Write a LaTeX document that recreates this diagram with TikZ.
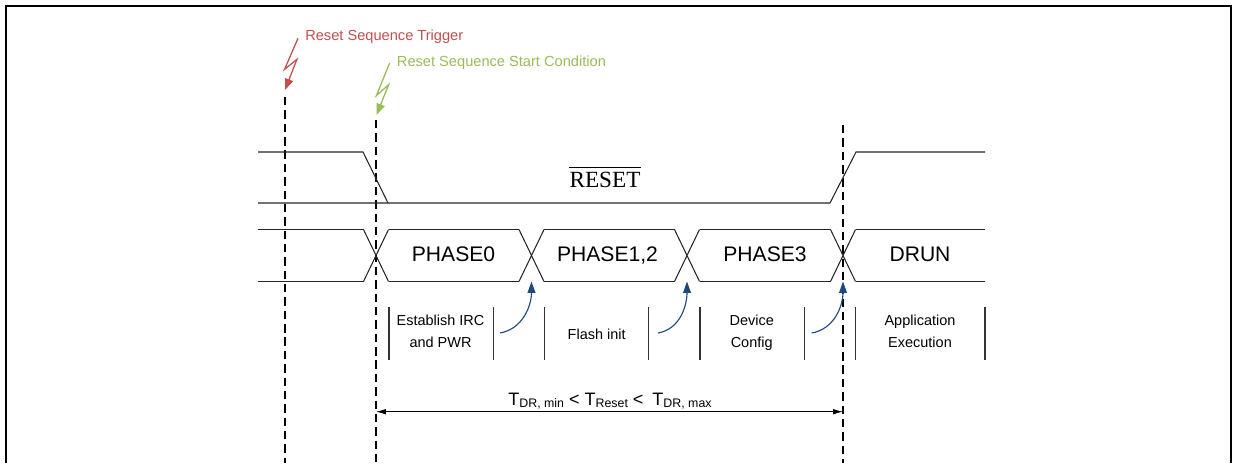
\documentclass[tikz,border=0pt]{standalone}
\usepackage{fontspec}
\setmainfont{Liberation Sans}
\newfontfamily\resetfont{Liberation Serif}
\usetikzlibrary{arrows.meta,positioning}
\definecolor{trigred}{RGB}{192,80,77}
\definecolor{startgreen}{RGB}{155,187,89}
\definecolor{hopblue}{RGB}{31,73,125}
\newcommand{\tsub}[1]{\raisebox{-1.5pt}{\fontsize{8.8}{10}\selectfont #1}}

\begin{document}
\begin{tikzpicture}
	% Styles
	[
	x=0.025cm, y=-0.025cm,
	sigline/.style={line width=0.75pt, black!85},
	marker/.style={line width=1.7pt, dash pattern=on 6pt off 3.5pt},
	bolt/.style={line width=0.9pt, -{Triangle[length=8pt,width=6pt]}},
	cue/.style={anchor=base west, inner sep=0pt, font=\fontsize{10.4}{12}\selectfont},
	phasetxt/.style={anchor=base, inner sep=0pt, font=\fontsize{15}{17}\selectfont},
	steptxt/.style={align=center, font=\fontsize{10.3}{15.6}\selectfont},
	bracket/.style={line width=0.8pt, black!80},
	hop/.style={line width=0.8pt, hopblue, -{Triangle[length=8pt,width=5.5pt]}},
	span/.style={line width=0.7pt, {Latex[length=7pt,width=4pt]}-{Latex[length=7pt,width=4pt]}}
	]

	\useasboundingbox (0,0) rectangle (1233,463);
	\draw[line width=1.3pt] (6,463) -- (6,6) -- (1231,6) -- (1231,463);

	% Nodes
	\node at (305,40)	(trig)	[cue, text=trigred] {Reset Sequence Trigger};
	\node at (396.7,66.7)	(start)	[cue, text=startgreen] {Reset Sequence Start Condition};
	\node at (605,187.7)	(reset)	[anchor=base, inner sep=0pt, font=\resetfont\fontsize{16.5}{18}\selectfont] {RESET};
	\node at (453.5,261.7)	(phase0)	[phasetxt] {PHASE0};
	\node at (607.5,261.7)	(phase12)	[phasetxt] {PHASE1,2};
	\node at (765,261.7)	(phase3)	[phasetxt] {PHASE3};
	\node at (920,261.7)	(drun)	[phasetxt] {DRUN};
	\node at (440.5,331.5)	(irc)	[steptxt] {Establish IRC\\and PWR};
	\node at (596.7,334.5)	(flash)	[steptxt] {Flash init};
	\node at (751.7,332.5)	(config)	[steptxt] {Device\\Config};
	\node at (920,331.5)	(app)	[steptxt] {Application\\Execution};
	\node at (610,405)	(treset)	[anchor=base, inner sep=0pt, font=\fontsize{12.8}{14}\selectfont] {T\tsub{DR, min} < T\tsub{Reset} <\hspace{0.5em}T\tsub{DR, max}};

	% Coordinates
	\coordinate (trig top)	at (285,97);
	\coordinate (trig end)	at (285,463);
	\coordinate (trig tip)	at (285,90);
	\coordinate (start top)	at (376,120);
	\coordinate (start end)	at (376,463);
	\coordinate (start tip)	at (376.5,115);
	\coordinate (done top)	at (843,125);
	\coordinate (done end)	at (843,463);
	\coordinate (hop1)	at (500,333);
	\coordinate (hop2)	at (658,333);
	\coordinate (hop3)	at (811.7,333);
	\coordinate (span left)	at (376,411.7);
	\coordinate (span right)	at (843,411.7);

	% Markers
	\draw[marker] (trig top) -- (trig end);
	\draw[marker] (start top) -- (start end);
	\draw[marker] (done top) -- (done end);
	\draw[bolt, trigred] ([xshift=-5pt,yshift=-1.5pt]trig.west) -- ++(-13.4,31) -- ++(12.4,-10) -- (trig tip);
	\draw[bolt, startgreen] ([xshift=-5pt]start.west) -- ++(-13.3,32.7) -- ++(12.3,-11) -- (start tip);

	% RESET waveform
	\draw[sigline] (258,152) -- (363,152) -- (388,203);
	\draw[sigline] (258,203) -- (830,203) -- (856,152) -- (985,152);
	\draw[line width=0.9pt] ([yshift=3.5pt]reset.north west) -- ([yshift=3.5pt]reset.north east);

	% Phase bus
	\foreach \a/\b in {258/363.5, 388.5/519, 544/674.5, 699.5/830.5, 855.5/985}
		\draw[sigline] (\a,229.5) -- (\b,229.5) (\a,281.5) -- (\b,281.5);
	\foreach \c [count=\i] in {376,531.5,687,843} {
		\draw[sigline] (\c-12.5,229.5) -- (\c+12.5,281.5) (\c-12.5,281.5) -- (\c+12.5,229.5);
		\coordinate (cross\i) at (\c,281.5);
	}

	% Brackets
	\foreach \x in {389,493.3,544.3,648.3,700,804.3,855.7,985}
		\draw[bracket] (\x,307) -- (\x,360);

	% Connections
	\draw[hop] (hop1) to[out=10,in=-90] (cross2);
	\draw[hop] (hop2) to[out=10,in=-90] (cross3);
	\draw[hop] (hop3) to[out=10,in=-90] (cross4);
	\draw[span] (span left) -- (span right);

\end{tikzpicture}
\end{document}
